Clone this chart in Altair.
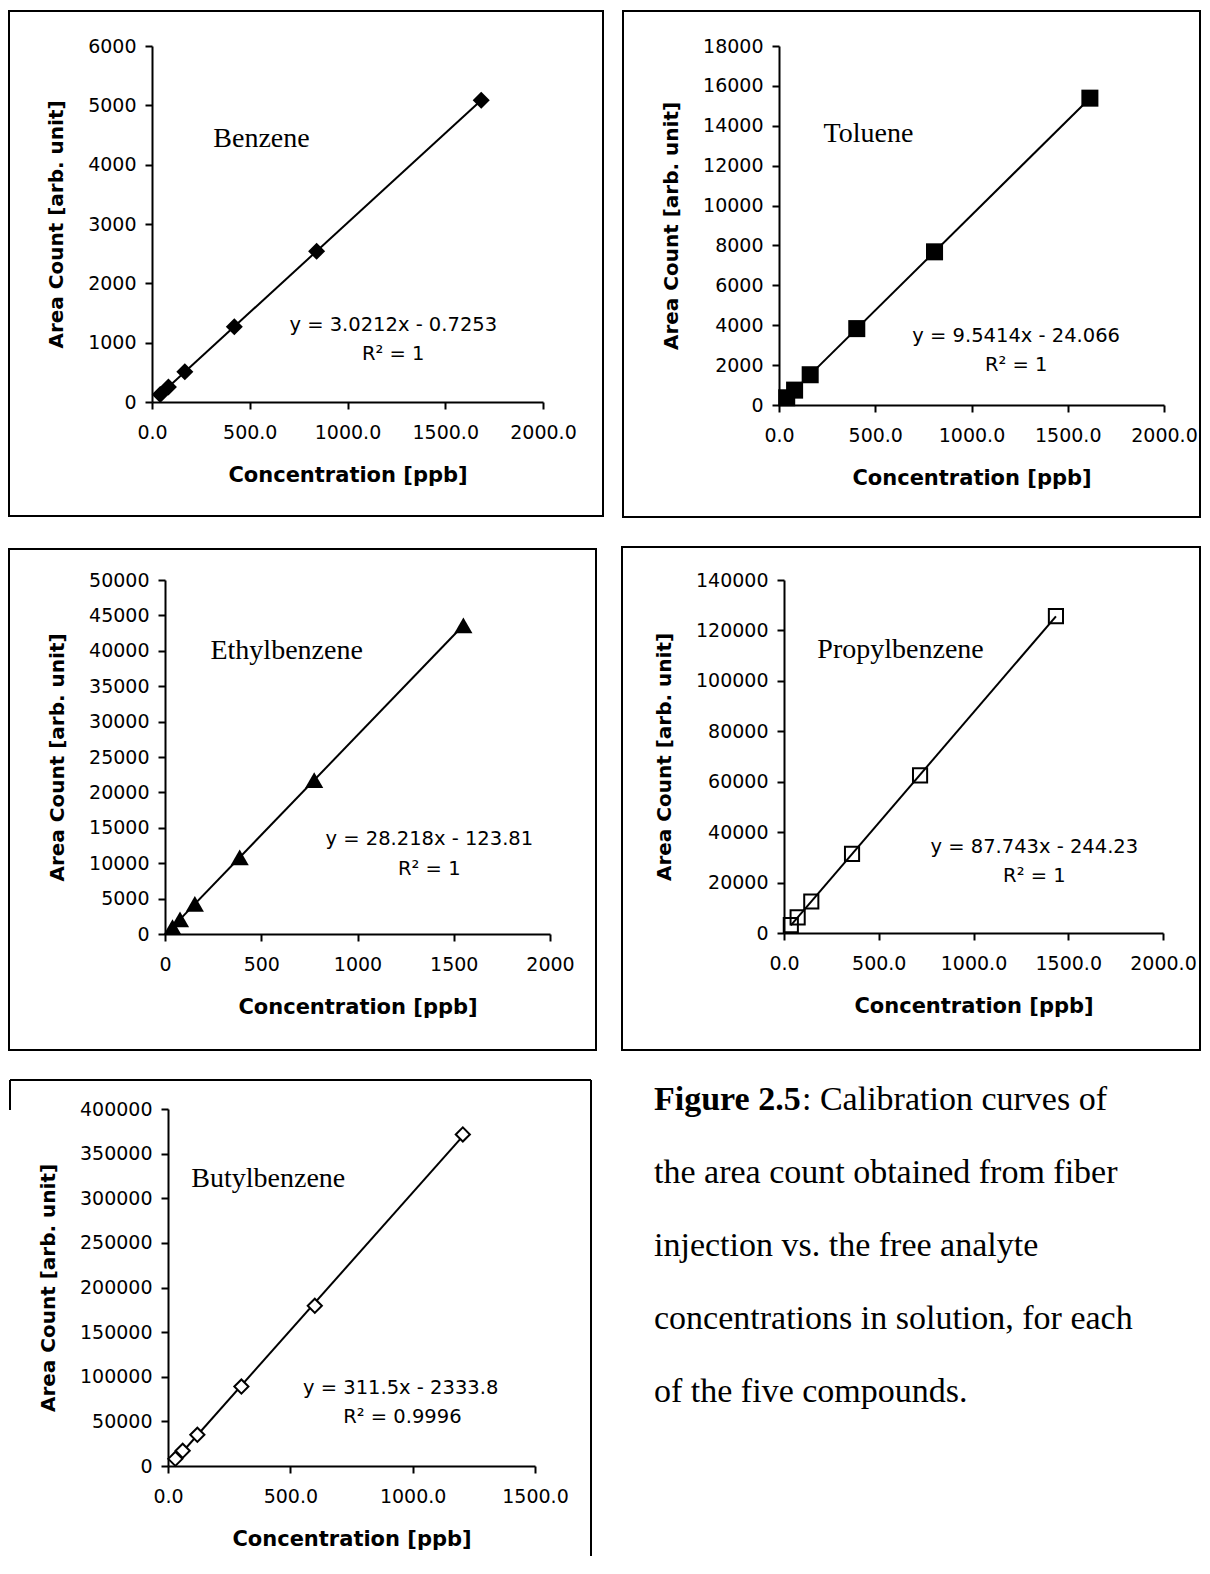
import altair as alt
import pandas as pd

SANS = "DejaVu Sans"
SERIF = "Liberation Serif"

# ---- data ----
benz_x = [42, 84, 168, 421, 842, 1684]
benz_y = [127, 254, 508, 1270, 2540, 5085]

tol_x = [40, 81, 162, 404, 808, 1615]
tol_y = [362, 746, 1517, 3830, 7680, 15385]

eth_x = [39, 78, 155, 388, 775, 1550]
eth_y = [970, 2060, 4250, 10810, 21750, 43600]

prop_x = [36, 72, 144, 359, 718, 1435]
prop_y = [3100, 6200, 12500, 31400, 62500, 125700]

but_x = [30, 60, 120, 300, 600, 1205]
but_y = [8000, 17000, 35000, 89000, 179500, 371500]

names = ["Benzene", "Toluene", "Ethylbenzene", "Propylbenzene", "Butylbenzene"]
equations = ["y = 3.0212x - 0.7253", "y = 9.5414x - 24.066", "y = 28.218x - 123.81",
             "y = 87.743x - 244.23", "y = 311.5x - 2333.8"]
r2_texts = ["R² = 1", "R² = 1", "R² = 1", "R² = 1", "R² = 0.9996"]

caption_lines = ["Figure 2.5", ": Calibration curves of",
                 "the area count obtained from fiber",
                 "injection vs. the free analyte",
                 "concentrations in solution, for each",
                 "of the five compounds."]

# annotation anchors (data units): name, equation, R^2
ann_pos = {
    "Benzene": [(560, 4430), (1234, 1300), (1234, 810)],
    "Toluene": [(465, 13575), (1232, 3470), (1232, 2010)],
    "Ethylbenzene": [(632, 39940), (1373, 13460), (1373, 9210)],
    "Propylbenzene": [(615, 112170), (1321, 34200), (1321, 22670)],
    "Butylbenzene": [(410, 321350), (951, 87640), (958, 55060)],
}


def panel(xs, ys, idx, xmax, xstep, xfmt, ymax, ystep, W, H, marker, border,
          shift=0, open_left=False):
    name = names[idx]
    d = shift
    df = pd.DataFrame({"x": xs, "y": ys})
    X = alt.X("x:Q", title="Concentration [ppb]",
              scale=alt.Scale(domain=[0, xmax], nice=False, zero=False, range=[d, W + d]),
              axis=alt.Axis(values=list(range(0, xmax + 1, xstep)), format=xfmt))
    yaxis = alt.Axis(values=list(range(0, ymax + 1, ystep)), format="d", offset=-d) if d else \
        alt.Axis(values=list(range(0, ymax + 1, ystep)), format="d")
    Y = alt.Y("y:Q", title="Area Count [arb. unit]",
              scale=alt.Scale(domain=[0, ymax], nice=False, zero=False), axis=yaxis)

    line = alt.Chart(df).transform_regression("x", "y").mark_line(
        color="black", strokeWidth=2).encode(x=X, y=Y)

    shape, kind, size = marker
    if kind == "filled":
        pm = alt.Chart(df).mark_point(shape=shape, filled=True, color="black",
                                      size=size, opacity=1)
    elif kind == "white":
        pm = alt.Chart(df).mark_point(shape=shape, filled=True, fill="white",
                                      stroke="black", strokeWidth=2, size=size, opacity=1)
    else:
        pm = alt.Chart(df).mark_point(shape=shape, filled=False, color="black",
                                      strokeWidth=2, size=size, opacity=1)
    pts = pm.encode(x=X, y=Y)

    (nx, ny), (ex, ey), (rx, ry) = ann_pos[name]
    name_t = alt.Chart(pd.DataFrame({"x": [nx], "y": [ny], "t": [name]})).mark_text(
        font=SERIF, fontSize=28, color="black").encode(x=X, y=Y, text="t:N")
    eq_t = alt.Chart(pd.DataFrame({"x": [ex, rx], "y": [ey, ry],
                                   "t": [equations[idx], r2_texts[idx]]})).mark_text(
        font=SANS, fontSize=19.5, color="black").encode(x=X, y=Y, text="t:N")

    l, r, t, b = border
    one = pd.DataFrame({"k": [0]})
    if not open_left:
        frame = [alt.Chart(one).mark_rect(fillOpacity=0, stroke="black", strokeWidth=2).encode(
            x=alt.value(l + d), x2=alt.value(W + d + r), y=alt.value(t), y2=alt.value(H + b))]
    else:
        frame = [
            alt.Chart(one).mark_rule(color="black", strokeWidth=2).encode(
                x=alt.value(l + d), x2=alt.value(W + d + r), y=alt.value(t)),
            alt.Chart(one).mark_rule(color="black", strokeWidth=2).encode(
                x=alt.value(W + d + r), y=alt.value(t), y2=alt.value(H + b)),
            alt.Chart(one).mark_rule(color="black", strokeWidth=2).encode(
                x=alt.value(l + d), y=alt.value(t), y2=alt.value(t + 30)),
        ]
    return alt.layer(*frame, line, pts, name_t, eq_t).properties(width=W + d, height=H)


benz = panel(benz_x, benz_y, 0, 2000, 500, ".1f", 6000, 1000, 391, 356,
             ("diamond", "filled", 290), (-143, 60, -35, 114))
tol = panel(tol_x, tol_y, 1, 2000, 500, ".1f", 18000, 2000, 385, 359,
            ("square", "filled", 290), (-156, 36, -35, 112))
eth = panel(eth_x, eth_y, 2, 2000, 500, "d", 50000, 5000, 385, 354,
            ("triangle-up", "filled", 330), (-156, 46, -31, 116), shift=13)
prop = panel(prop_x, prop_y, 3, 2000, 500, ".1f", 140000, 20000, 379, 353,
             ("square", "open", 200), (-162, 37, -33, 117))
but = panel(but_x, but_y, 4, 1500, 500, ".1f", 400000, 50000, 367, 357,
            ("diamond", "white", 200), (-158, 56, -29, 90), shift=16, open_left=True)

# caption
cap_df0 = pd.DataFrame({"line": [0], "t": [caption_lines[0]]})
cap_df1 = pd.DataFrame({"line": [0], "t": [caption_lines[1]]})
cap_df2 = pd.DataFrame({"line": [1, 2, 3, 4], "t": caption_lines[2:]})
CY = alt.Y("line:Q", scale=alt.Scale(domain=[0, 4], range=[-9, 283]), axis=None)
CFS = 34
CX = 42
cap_bold = alt.Chart(cap_df0).mark_text(font=SERIF, fontSize=CFS, fontWeight="bold",
                                        align="left", baseline="middle", color="black").encode(
    x=alt.value(CX), y=CY, text="t:N")
cap_colon = alt.Chart(cap_df1).mark_text(font=SERIF, fontSize=CFS, align="left",
                                         baseline="middle", color="black").encode(
    x=alt.value(CX + 148), y=CY, text="t:N")
cap_rest = alt.Chart(cap_df2).mark_text(font=SERIF, fontSize=CFS, align="left",
                                        baseline="middle", color="black").encode(
    x=alt.value(CX), y=CY, text="t:N")
caption = alt.layer(cap_bold, cap_colon, cap_rest).properties(width=540, height=300)

row1 = alt.hconcat(benz, tol, spacing=18)
row2 = alt.hconcat(eth, prop, spacing=24)
row3 = alt.hconcat(but, caption, spacing=20)

chart = alt.vconcat(row1, row2, row3, spacing=28).properties(
    padding={"left": 0, "top": 2, "right": 0, "bottom": 0}
).configure_view(
    strokeWidth=0
).configure_axis(
    labelFont=SANS, labelFontSize=19, labelColor="black",
    titleFont=SANS, titleFontSize=20, titleFontWeight="bold", titleColor="black",
    domainColor="black", domainWidth=2, tickColor="black", tickWidth=2, tickSize=7,
    grid=False, labelFlush=False, labelOverlap=False
).configure_axisX(labelPadding=14, titlePadding=22, titleFontSize=21).configure_axisY(
    labelPadding=9, titlePadding=21)

chart.save("out.html", embed_options={"renderer": "svg", "actions": False})
